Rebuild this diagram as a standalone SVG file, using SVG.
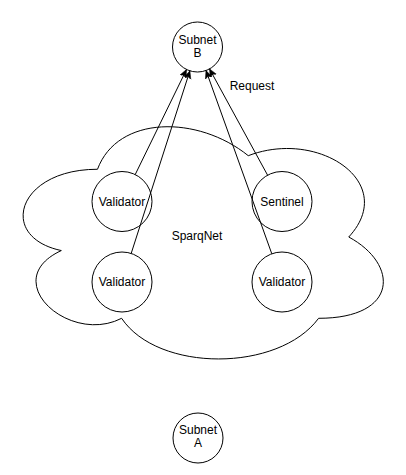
<svg xmlns="http://www.w3.org/2000/svg" width="406" height="475" viewBox="0 0 406 475">
<style>
.n{fill:#fff;stroke:#000;stroke-width:1}
.t{font-family:"Liberation Sans",Arial,sans-serif;font-size:12px;fill:#000;text-anchor:middle}
.e{stroke:#000;stroke-width:1;fill:none;marker-end:url(#arr)}
</style>
<defs>
<marker id="arr" markerUnits="userSpaceOnUse" markerWidth="10" markerHeight="10" refX="8" refY="4" orient="auto">
<path d="M8 4 L0 0.5 L2 4 L0 7.5 Z" fill="#000" stroke="#000" stroke-width="0.5"/>
</marker>
</defs>
<rect width="406" height="475" fill="#fff"/>
<g id="sparqnet">
<path class="n" d="M97.5 169.25 C17.1 169.25 -3 237 61.32 250.55 C-3 280.36 69.36 345.4 121.62 318.3 C157.8 372.5 278.4 372.5 318.6 318.3 C399 318.3 399 264.1 348.75 237 C399 182.8 318.6 128.6 248.25 155.7 C198 115.05 117.6 115.05 97.5 169.25 Z"/>
<text class="t" x="197" y="240.3">SparqNet</text>
</g>
<g id="subnetB">
<circle class="n" cx="197.5" cy="47" r="25"/>
<text class="t" x="197.5" y="43.6">Subnet</text>
<text class="t" x="197.5" y="57.3">B</text>
</g>
<g id="subnetA">
<circle class="n" cx="198" cy="438" r="25"/>
<text class="t" x="198" y="433.6">Subnet</text>
<text class="t" x="198" y="447.3">A</text>
</g>
<g id="validator1">
<circle class="n" cx="122" cy="201.5" r="30"/>
<text class="t" x="122" y="205.8">Validator</text>
</g>
<g id="validator2">
<circle class="n" cx="122" cy="282" r="30"/>
<text class="t" x="122" y="286.3">Validator</text>
</g>
<g id="sentinel">
<circle class="n" cx="282" cy="201.5" r="30"/>
<text class="t" x="282" y="205.8">Sentinel</text>
</g>
<g id="validator3">
<circle class="n" cx="282" cy="282" r="30"/>
<text class="t" x="282" y="286.3">Validator</text>
</g>
<g id="connectors">
<line class="e" x1="135.2" y1="174.6" x2="186.5" y2="69.5"/>
<line class="e" x1="131.2" y1="253.4" x2="189.9" y2="70.8"/>
<line class="e" x1="267.6" y1="175.2" x2="209.5" y2="68.9"/>
<line class="e" x1="271.8" y1="253.8" x2="206" y2="70.5"/>
<text class="t" x="252" y="90.3">Request</text>
</g>
</svg>
